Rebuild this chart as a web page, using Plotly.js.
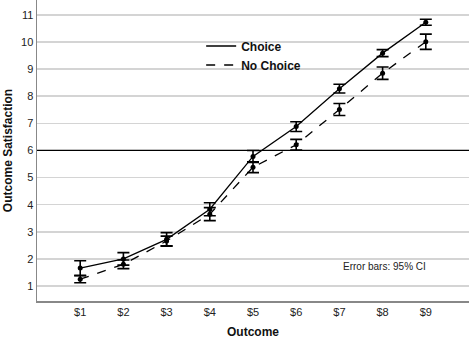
<!DOCTYPE html>
<html><head><meta charset="utf-8">
<script src="https://cdn.plot.ly/plotly-3.0.1.min.js"></script>
<style>html,body{margin:0;padding:0;background:#fff;}#chart{width:469px;height:339px;}</style>
</head><body><div id="chart"></div>
<script>
const tickLabels = ['$1','$2','$3','$4','$5','$6','$7','$8','$9'];
const xPos = [1,2,3,4,5,6,7,8,9];
const choiceMean = [1.66, 2.00, 2.72, 3.83, 5.78, 6.88, 8.28, 9.59, 10.73];
const choiceCI   = [0.27, 0.23, 0.25, 0.24, 0.22, 0.18, 0.16, 0.13, 0.11];
const noChoiceMean = [1.25, 1.80, 2.66, 3.65, 5.38, 6.21, 7.51, 8.85, 10.01];
const noChoiceCI   = [0.13, 0.16, 0.18, 0.24, 0.20, 0.20, 0.22, 0.23, 0.28];

const F = 'Liberation Sans, Arial, sans-serif';
const traces = [
  {x: xPos, y: choiceMean, mode: 'lines+markers', showlegend: false,
   line: {color: '#000', width: 1.3}, marker: {color: '#000', size: 5},
   error_y: {type: 'data', array: choiceCI, visible: true, color: '#000', thickness: 1.6, width: 6}},
  {x: xPos, y: noChoiceMean, mode: 'lines+markers', showlegend: false,
   line: {color: '#000', width: 1.3, dash: 'dash'}, marker: {color: '#000', size: 5},
   error_y: {type: 'data', array: noChoiceCI, visible: true, color: '#000', thickness: 1.6, width: 6}},
  {x: [null], y: [null], mode: 'lines', name: 'Choice', line: {color: '#000', width: 1.5}},
  {x: [null], y: [null], mode: 'lines', name: 'No Choice', line: {color: '#000', width: 1.5, dash: 'dash'}}
];
const layout = {
  width: 469, height: 339,
  margin: {l: 37, r: 0, t: 0, b: 38},
  paper_bgcolor: '#fff', plot_bgcolor: '#fff',
  font: {family: F, size: 11, color: '#222'},
  xaxis: {range: [0, 10], tickvals: xPos, ticktext: tickLabels, showgrid: false, zeroline: false,
          showline: true, linecolor: '#888', linewidth: 1.5, ticks: '', ticklen: 0,
          tickfont: {size: 11, color: '#222'},
          title: {text: '<b>Outcome</b>', font: {size: 12, color: '#111'}, standoff: 12}},
  yaxis: {range: [0.446, 11.55], tickvals: [1,2,3,4,5,6,7,8,9,10,11], showgrid: true, gridcolor: '#d4d4d4', gridwidth: 1.5,
          zeroline: false, showline: true, linecolor: '#888', linewidth: 1.5, ticks: '',
          tickfont: {size: 11, color: '#222'},
          title: {text: '<b>Outcome Satisfaction</b>', font: {size: 12, color: '#111'}, standoff: 6}},
  shapes: [{type: 'line', xref: 'paper', x0: 0, x1: 1, yref: 'y', y0: 6, y1: 6, line: {color: '#000', width: 1.3}}],
  legend: {x: 0.38, y: 0.895, xanchor: 'left', yanchor: 'top', bgcolor: 'rgba(0,0,0,0)',
           font: {size: 12, color: '#111', family: F, weight: 'bold'}, tracegroupgap: 0},
  annotations: [{text: 'Error bars: 95% CI', xref: 'paper', yref: 'paper', x: 0.905, y: 0.115,
                 xanchor: 'right', yanchor: 'middle', showarrow: false, font: {size: 10, color: '#222'}}]
};
Plotly.newPlot('chart', traces, layout, {displayModeBar: false, staticPlot: true});
</script></body></html>
